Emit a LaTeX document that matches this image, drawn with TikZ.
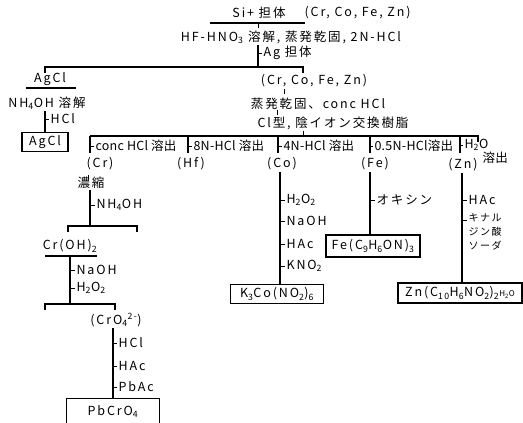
\documentclass[tikz,border=0pt]{standalone}
\usepackage{fontspec}
\setmainfont{Noto Sans CJK JP}[LetterSpace=15]
\newfontfamily\tightfont{Noto Sans CJK JP}[LetterSpace=2]
\newcommand{\sbs}[1]{\textsubscript{#1}}
\begin{document}
\begin{tikzpicture}[x=1pt,y=-1pt,line width=1.1pt,
  every node/.style={font=\fontsize{12.5}{14}\selectfont,inner sep=1pt},
  lab/.style={anchor=west},
  elab/.style={anchor=west,font=\tightfont\fontsize{12.5}{14}\selectfont},
  res/.style={draw,line width=1.2pt,inner sep=3pt,minimum height=18pt},
  tk/.style={line width=0.9pt}]
\useasboundingbox (0,0) rectangle (523,423);
% --- top
\node (si) at (259,13) {Si+ 担体};
\node[anchor=west] (sim) at (303,13) {(Cr, Co, Fe, Zn)};
\coordinate (u1a) at (210,23); \coordinate (u1b) at (305,23);
\draw (u1a) -- (u1b);
\node (hf) at (291,37) {HF-HNO\sbs{3} 溶解, 蒸発乾固, 2N-HCl};
\coordinate (m0) at (258,23);
\draw[tk] (m0) -- ++(0,5);
\coordinate (b1L) at (45,67); \coordinate (b1R) at (303,67); \coordinate (b1M) at (258,67);
\draw (b1L) ++(0,6) -- (b1L) -- (b1R) -- ++(0,6);
\draw (hf.south -| b1M) -- (b1M);
\node[lab] (ag) at (262,53) {Ag 担体};
\draw[tk] (ag.west -| b1M) -- (ag.west);
% --- AgCl branch
\node (agcl) at (50,79) {AgCl};
\draw (26,88) -- (76,88);
\node (nh) at (47,103) {NH\sbs{4}OH 溶解};
\node[res,minimum width=46pt] (agclbox) at (45,142) {AgCl};
\draw (nh.south -| agclbox.north) -- (agclbox.north);
\node[lab] (hcl1) at (49,119) {HCl};
\draw[tk] (hcl1.west -| agclbox.north) -- (hcl1.west);
% --- main right branch
\node (mix) at (314,81) {(Cr, Co, Fe, Zn)};
\node (evap) at (318,104) {蒸発乾固、conc HCl};
\node (resin) at (333,123) {Cl型, 陰イオン交換樹脂};
\draw[tk] (284,89) -- (284,94);
\draw[tk] (277,110) -- (277,115);
\coordinate (b2L) at (90,136); \coordinate (b2R) at (478,136); \coordinate (b2M) at (303,136);
\draw (b2L) -- (b2R) -- ++(0,6);
\draw[tk] (resin.south -| b2M) -- (b2M);
% branch verticals
\foreach \n/\x in {cr/90,hf/188,co/278,fe/370,zn/460}{
  \coordinate (t\n) at (\x,136);
  \draw (t\n) -- ++(0,17);
}
\node[elab] (e1) at (94,146) {conc HCl 溶出};
\node[elab] (e2) at (192,146) {8N-HCl 溶出};
\node[elab] (e3) at (282,146) {4N-HCl 溶出};
\node[elab] (e4) at (373,146) {0.5N-HCl溶出};
\node[elab] (e5) at (463,145) {H\sbs{2}O};
\node[elab] (e5b) at (481,158) {溶出};
\foreach \n/\e in {cr/e1,hf/e2,co/e3,fe/e4,zn/e5}{
  \draw[tk] (\e.west -| t\n) -- (\e.west);
}
\node (cr) at (100,164) {(Cr)};
\node (hfn) at (191,164) {(Hf)};
\node (co) at (282,164) {(Co)};
\node (fe) at (375,164) {(Fe)};
\node (zn) at (463,165) {(Zn)};
% --- Cr branch
\node (conc) at (91,183) {濃縮};
\draw[tk] (88,175) -- (88,179);
\coordinate (b3L) at (68,226); \coordinate (b3R) at (137,226); \coordinate (b3M) at (90,226);
\draw (b3L) ++(0,6) -- (b3L) -- (b3R) -- ++(0,6);
\draw (conc.south -| b3M) -- (b3M);
\node[lab] (nh2) at (95,205) {NH\sbs{4}OH};
\draw[tk] (nh2.west -| b3M) -- (nh2.west);
\node (croh) at (70,246) {Cr(OH)\sbs{2}};
\draw (45,256) -- (97,256);
\coordinate (b4L) at (45,304); \coordinate (b4R) at (115,304); \coordinate (b4M) at (70,304);
\draw (b4L) ++(0,6) -- (b4L) -- (b4R) -- ++(0,6);
\draw (b4M |- 0,256) -- (b4M);
\node[lab] (naoh1) at (75,270) {NaOH};
\node[lab] (h2o2a) at (75,288) {H\sbs{2}O\sbs{2}};
\foreach \e in {naoh1,h2o2a}{\draw[tk] (\e.west -| b4M) -- (\e.west);}
\node (cro4) at (116,320) {(CrO\sbs{4}\textsuperscript{2-})};
\node[res,minimum width=93pt,minimum height=26pt,anchor=north] (pbcro4) at (113,398) {PbCrO\sbs{4}};
\draw (cro4.south -| pbcro4.north) -- (pbcro4.north);
\node[lab] (hcl2) at (117,343) {HCl};
\node[lab] (hac1) at (117,366) {HAc};
\node[lab] (pbac) at (117,387) {PbAc};
\foreach \e in {hcl2,hac1,pbac}{\draw[tk] (\e.west -| pbcro4.north) -- (\e.west);}
% --- Co branch
\node[res,minimum width=93pt] (k3co) at (277,294) {K\sbs{3}Co(NO\sbs{2})\sbs{6}};
\draw (co.south -| 280,0) -- (280,0 |- k3co.north);
\node[lab] (h2o2b) at (285,200) {H\sbs{2}O\sbs{2}};
\node[lab] (naoh2) at (285,221) {NaOH};
\node[lab] (hac2) at (285,244) {HAc};
\node[lab] (kno2) at (285,266) {KNO\sbs{2}};
\foreach \e in {h2o2b,naoh2,hac2,kno2}{\draw[tk] (\e.west -| 280,0) -- (\e.west);}
% --- Fe branch
\node[res,minimum width=94pt,minimum height=22pt] (fec) at (373,246) {Fe(C\sbs{9}H\sbs{6}ON)\sbs{3}};
\draw (fe.south -| 370,0) -- (370,0 |- fec.north);
\node[lab] (oxine) at (375,200) {オキシン};
\draw[tk] (oxine.west -| 370,0) -- (oxine.west);
% --- Zn branch
\node[res,minimum width=124pt,minimum height=20pt] (znc) at (460,293) {Zn(C\sbs{10}H\sbs{6}NO\sbs{2})\sbs{2}{\fontsize{8}{9}\selectfont H\sbs{2}O}};
\draw (zn.south -| 462,0) -- (462,0 |- znc.north);
\node[lab] (hac3) at (467,200) {HAc};
\node[lab,anchor=north west,align=left,font=\fontsize{10}{14}\selectfont] (quin) at (467,212) {キナル\\ジン酸\\ソーダ};
\draw[tk] (hac3.west -| 462,0) -- (hac3.west);
\draw[tk] (462,220) -- (467,220);
\end{tikzpicture}
\end{document}
